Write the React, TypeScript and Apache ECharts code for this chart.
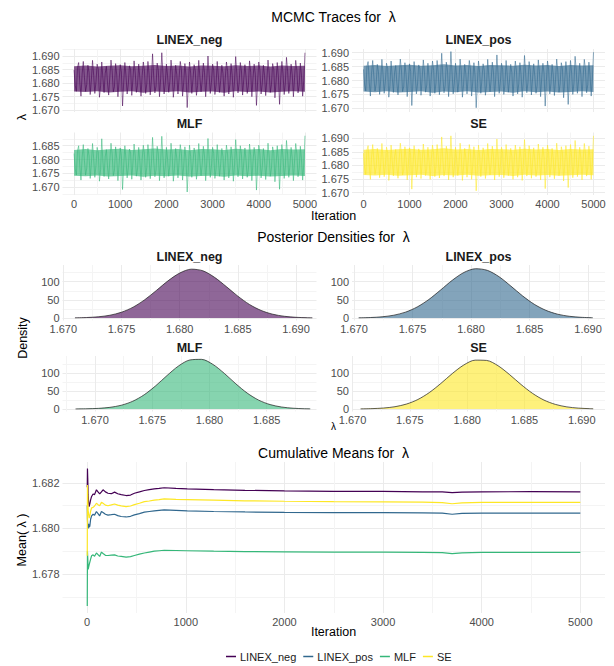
import React, { useEffect, useRef } from "react";
import * as echarts from "echarts";

const FONT = '"Liberation Sans", Arial, Helvetica, sans-serif';

const groups = ["LINEX_neg", "LINEX_pos", "MLF", "SE"];
const groupColors = ["#440154", "#31688E", "#35B779", "#FDE725"];

// ---------- MCMC traces (one value every 25 iterations) ----------
const traceStep = 25;
const traceLinexNeg = [
  1.6848, 1.6792, 1.6770, 1.6858, 1.6876, 1.6801, 1.6752, 1.6834, 1.6880, 1.6822, 1.6770, 1.6795, 1.6866, 1.6840, 1.6758, 1.6812, 1.6884, 1.6829, 1.6762, 1.6805,
  1.6870, 1.6851, 1.6748, 1.6790, 1.6878, 1.6818, 1.6765, 1.6836, 1.6862, 1.6799, 1.6756, 1.6824, 1.6885, 1.6846, 1.6768, 1.6787, 1.6872, 1.6830, 1.6750, 1.6808,
  1.6868, 1.6841, 1.6716, 1.6803, 1.6876, 1.6826, 1.6760, 1.6796, 1.6864, 1.6850, 1.6755, 1.6815, 1.6882, 1.6838, 1.6766, 1.6792, 1.6870, 1.6819, 1.6752, 1.6828,
  1.6878, 1.6844, 1.6762, 1.6798, 1.6880, 1.6833, 1.6757, 1.6811, 1.6908, 1.6823, 1.6764, 1.6789, 1.6874, 1.6847, 1.6750, 1.6816, 1.6912, 1.6835, 1.6760, 1.6800,
  1.6870, 1.6827, 1.6766, 1.6806, 1.6885, 1.6842, 1.6748, 1.6794, 1.6866, 1.6831, 1.6760, 1.6820, 1.6880, 1.6849, 1.6752, 1.6803, 1.6872, 1.6825, 1.6710, 1.6797,
  1.6878, 1.6837, 1.6762, 1.6813, 1.6868, 1.6845, 1.6755, 1.6791, 1.6884, 1.6821, 1.6768, 1.6809, 1.6874, 1.6839, 1.6750, 1.6817, 1.6900, 1.6832, 1.6762, 1.6802,
  1.6870, 1.6848, 1.6758, 1.6793, 1.6880, 1.6826, 1.6766, 1.6810, 1.6866, 1.6836, 1.6752, 1.6818, 1.6878, 1.6843, 1.6760, 1.6796, 1.6872, 1.6829, 1.6748, 1.6807,
  1.6898, 1.6834, 1.6764, 1.6801, 1.6876, 1.6845, 1.6756, 1.6814, 1.6868, 1.6822, 1.6762, 1.6790, 1.6882, 1.6840, 1.6750, 1.6819, 1.6870, 1.6833, 1.6718, 1.6804,
  1.6878, 1.6846, 1.6760, 1.6797, 1.6866, 1.6828, 1.6754, 1.6812, 1.6885, 1.6838, 1.6766, 1.6795, 1.6872, 1.6850, 1.6746, 1.6808, 1.6876, 1.6824, 1.6722, 1.6815,
  1.6880, 1.6835, 1.6758, 1.6799, 1.6895, 1.6843, 1.6762, 1.6806, 1.6870, 1.6830, 1.6750, 1.6821, 1.6884, 1.6847, 1.6764, 1.6793, 1.6874, 1.6827, 1.6752, 1.6810,
  1.6912,
];
const traceLinexPos = [
  1.6840, 1.6784, 1.6762, 1.6850, 1.6868, 1.6793, 1.6744, 1.6826, 1.6872, 1.6814, 1.6762, 1.6787, 1.6858, 1.6832, 1.6750, 1.6804, 1.6876, 1.6821, 1.6754, 1.6797,
  1.6862, 1.6843, 1.6740, 1.6782, 1.6870, 1.6810, 1.6757, 1.6828, 1.6854, 1.6791, 1.6748, 1.6816, 1.6877, 1.6838, 1.6760, 1.6779, 1.6864, 1.6822, 1.6742, 1.6800,
  1.6860, 1.6833, 1.6710, 1.6795, 1.6868, 1.6818, 1.6752, 1.6788, 1.6856, 1.6842, 1.6747, 1.6807, 1.6874, 1.6830, 1.6758, 1.6784, 1.6862, 1.6811, 1.6744, 1.6820,
  1.6870, 1.6836, 1.6754, 1.6790, 1.6872, 1.6825, 1.6749, 1.6803, 1.6898, 1.6815, 1.6756, 1.6781, 1.6866, 1.6839, 1.6742, 1.6808, 1.6904, 1.6827, 1.6752, 1.6792,
  1.6862, 1.6819, 1.6758, 1.6798, 1.6877, 1.6834, 1.6740, 1.6786, 1.6858, 1.6823, 1.6752, 1.6812, 1.6872, 1.6841, 1.6744, 1.6795, 1.6864, 1.6817, 1.6702, 1.6789,
  1.6870, 1.6829, 1.6754, 1.6805, 1.6860, 1.6837, 1.6747, 1.6783, 1.6876, 1.6813, 1.6760, 1.6801, 1.6866, 1.6831, 1.6742, 1.6809, 1.6892, 1.6824, 1.6754, 1.6794,
  1.6862, 1.6840, 1.6750, 1.6785, 1.6872, 1.6818, 1.6758, 1.6802, 1.6858, 1.6828, 1.6744, 1.6810, 1.6870, 1.6835, 1.6752, 1.6788, 1.6864, 1.6821, 1.6740, 1.6799,
  1.6890, 1.6826, 1.6756, 1.6793, 1.6868, 1.6837, 1.6748, 1.6806, 1.6860, 1.6814, 1.6754, 1.6782, 1.6874, 1.6832, 1.6742, 1.6811, 1.6862, 1.6825, 1.6708, 1.6796,
  1.6870, 1.6838, 1.6752, 1.6789, 1.6858, 1.6820, 1.6746, 1.6804, 1.6877, 1.6830, 1.6758, 1.6787, 1.6864, 1.6842, 1.6738, 1.6800, 1.6868, 1.6816, 1.6714, 1.6807,
  1.6872, 1.6827, 1.6750, 1.6791, 1.6887, 1.6835, 1.6754, 1.6798, 1.6862, 1.6822, 1.6742, 1.6813, 1.6876, 1.6839, 1.6756, 1.6785, 1.6866, 1.6819, 1.6744, 1.6802,
  1.6902,
];
const traceMlf = [
  1.6822, 1.6766, 1.6744, 1.6832, 1.6850, 1.6775, 1.6726, 1.6808, 1.6854, 1.6796, 1.6744, 1.6769, 1.6840, 1.6814, 1.6732, 1.6786, 1.6858, 1.6803, 1.6736, 1.6779,
  1.6844, 1.6825, 1.6722, 1.6764, 1.6875, 1.6792, 1.6739, 1.6810, 1.6836, 1.6773, 1.6730, 1.6798, 1.6859, 1.6820, 1.6742, 1.6761, 1.6846, 1.6804, 1.6724, 1.6782,
  1.6842, 1.6815, 1.6692, 1.6777, 1.6850, 1.6800, 1.6734, 1.6770, 1.6838, 1.6824, 1.6729, 1.6789, 1.6856, 1.6812, 1.6740, 1.6766, 1.6844, 1.6793, 1.6726, 1.6802,
  1.6852, 1.6818, 1.6736, 1.6772, 1.6854, 1.6807, 1.6731, 1.6785, 1.6880, 1.6797, 1.6738, 1.6763, 1.6848, 1.6821, 1.6724, 1.6790, 1.6884, 1.6809, 1.6734, 1.6774,
  1.6844, 1.6801, 1.6740, 1.6780, 1.6859, 1.6816, 1.6722, 1.6768, 1.6840, 1.6805, 1.6734, 1.6794, 1.6854, 1.6823, 1.6726, 1.6777, 1.6846, 1.6799, 1.6683, 1.6771,
  1.6852, 1.6811, 1.6736, 1.6787, 1.6842, 1.6819, 1.6729, 1.6765, 1.6858, 1.6795, 1.6742, 1.6783, 1.6848, 1.6813, 1.6724, 1.6791, 1.6876, 1.6806, 1.6736, 1.6776,
  1.6844, 1.6822, 1.6732, 1.6767, 1.6854, 1.6800, 1.6740, 1.6784, 1.6840, 1.6810, 1.6726, 1.6792, 1.6852, 1.6817, 1.6734, 1.6770, 1.6846, 1.6803, 1.6722, 1.6781,
  1.6872, 1.6808, 1.6738, 1.6775, 1.6850, 1.6819, 1.6730, 1.6788, 1.6842, 1.6796, 1.6736, 1.6764, 1.6856, 1.6814, 1.6724, 1.6793, 1.6844, 1.6807, 1.6690, 1.6778,
  1.6852, 1.6820, 1.6734, 1.6771, 1.6840, 1.6802, 1.6728, 1.6786, 1.6859, 1.6812, 1.6740, 1.6769, 1.6846, 1.6824, 1.6720, 1.6782, 1.6850, 1.6798, 1.6693, 1.6789,
  1.6854, 1.6809, 1.6732, 1.6773, 1.6869, 1.6817, 1.6736, 1.6780, 1.6844, 1.6804, 1.6724, 1.6795, 1.6858, 1.6821, 1.6738, 1.6767, 1.6848, 1.6801, 1.6726, 1.6784,
  1.6886,
];
const traceSe = [
  1.6845, 1.6789, 1.6767, 1.6855, 1.6873, 1.6798, 1.6749, 1.6831, 1.6877, 1.6819, 1.6767, 1.6792, 1.6863, 1.6837, 1.6755, 1.6809, 1.6881, 1.6826, 1.6759, 1.6802,
  1.6867, 1.6848, 1.6745, 1.6787, 1.6875, 1.6815, 1.6762, 1.6833, 1.6859, 1.6796, 1.6753, 1.6821, 1.6882, 1.6843, 1.6765, 1.6784, 1.6869, 1.6827, 1.6747, 1.6805,
  1.6865, 1.6838, 1.6713, 1.6800, 1.6873, 1.6823, 1.6757, 1.6793, 1.6861, 1.6847, 1.6752, 1.6812, 1.6879, 1.6835, 1.6763, 1.6789, 1.6867, 1.6816, 1.6749, 1.6825,
  1.6875, 1.6841, 1.6759, 1.6795, 1.6877, 1.6830, 1.6754, 1.6808, 1.6905, 1.6820, 1.6761, 1.6786, 1.6871, 1.6844, 1.6747, 1.6813, 1.6909, 1.6832, 1.6757, 1.6797,
  1.6867, 1.6824, 1.6763, 1.6803, 1.6882, 1.6839, 1.6745, 1.6791, 1.6863, 1.6828, 1.6757, 1.6817, 1.6877, 1.6846, 1.6749, 1.6800, 1.6869, 1.6822, 1.6707, 1.6794,
  1.6875, 1.6834, 1.6759, 1.6810, 1.6865, 1.6842, 1.6752, 1.6788, 1.6881, 1.6818, 1.6765, 1.6806, 1.6871, 1.6836, 1.6747, 1.6814, 1.6897, 1.6829, 1.6759, 1.6799,
  1.6867, 1.6845, 1.6755, 1.6790, 1.6877, 1.6823, 1.6763, 1.6807, 1.6863, 1.6833, 1.6749, 1.6815, 1.6875, 1.6840, 1.6757, 1.6793, 1.6869, 1.6826, 1.6745, 1.6804,
  1.6895, 1.6831, 1.6761, 1.6798, 1.6873, 1.6842, 1.6753, 1.6811, 1.6865, 1.6819, 1.6759, 1.6787, 1.6879, 1.6837, 1.6747, 1.6816, 1.6867, 1.6830, 1.6715, 1.6801,
  1.6875, 1.6843, 1.6757, 1.6794, 1.6863, 1.6825, 1.6751, 1.6809, 1.6882, 1.6835, 1.6763, 1.6792, 1.6869, 1.6847, 1.6743, 1.6805, 1.6873, 1.6821, 1.6719, 1.6812,
  1.6877, 1.6832, 1.6755, 1.6796, 1.6892, 1.6840, 1.6759, 1.6803, 1.6867, 1.6827, 1.6747, 1.6818, 1.6881, 1.6844, 1.6761, 1.6790, 1.6871, 1.6824, 1.6749, 1.6807,
  1.6909,
];

// dense core of each trace (lower / upper edge, every 250 iterations)
const coreStep = 250;
const coreLinexNegLo = [1.6769, 1.6767, 1.6770, 1.6766, 1.6768, 1.6770, 1.6765, 1.6769, 1.6767, 1.6770, 1.6766, 1.6768, 1.6769, 1.6765, 1.6770, 1.6767, 1.6769, 1.6766, 1.6768, 1.6770, 1.6768];
const coreLinexNegHi = [1.6862, 1.6865, 1.6861, 1.6864, 1.6866, 1.6862, 1.6864, 1.6867, 1.6863, 1.6865, 1.6861, 1.6865, 1.6864, 1.6862, 1.6866, 1.6863, 1.6865, 1.6861, 1.6865, 1.6863, 1.6864];
const coreLinexPosLo = [1.6760, 1.6758, 1.6761, 1.6757, 1.6759, 1.6761, 1.6756, 1.6760, 1.6758, 1.6761, 1.6757, 1.6759, 1.6760, 1.6756, 1.6761, 1.6758, 1.6760, 1.6757, 1.6759, 1.6761, 1.6759];
const coreLinexPosHi = [1.6853, 1.6856, 1.6852, 1.6855, 1.6857, 1.6853, 1.6855, 1.6858, 1.6854, 1.6856, 1.6852, 1.6856, 1.6855, 1.6853, 1.6857, 1.6854, 1.6856, 1.6852, 1.6856, 1.6854, 1.6855];
const coreMlfLo = [1.6742, 1.6740, 1.6743, 1.6739, 1.6741, 1.6743, 1.6738, 1.6742, 1.6740, 1.6743, 1.6739, 1.6741, 1.6742, 1.6738, 1.6743, 1.6740, 1.6742, 1.6739, 1.6741, 1.6743, 1.6741];
const coreMlfHi = [1.6835, 1.6838, 1.6834, 1.6837, 1.6839, 1.6835, 1.6837, 1.6840, 1.6836, 1.6838, 1.6834, 1.6838, 1.6837, 1.6835, 1.6839, 1.6836, 1.6838, 1.6834, 1.6838, 1.6836, 1.6837];
const coreSeLo = [1.6765, 1.6763, 1.6766, 1.6762, 1.6764, 1.6766, 1.6761, 1.6765, 1.6763, 1.6766, 1.6762, 1.6764, 1.6765, 1.6761, 1.6766, 1.6763, 1.6765, 1.6762, 1.6764, 1.6766, 1.6764];
const coreSeHi = [1.6858, 1.6861, 1.6857, 1.6860, 1.6862, 1.6858, 1.6860, 1.6863, 1.6859, 1.6861, 1.6857, 1.6861, 1.6860, 1.6858, 1.6862, 1.6859, 1.6861, 1.6857, 1.6861, 1.6859, 1.6860];

// ---------- Posterior densities ----------
const densLinexNegX = [1.6710, 1.6720, 1.6730, 1.6740, 1.6750, 1.6760, 1.6770, 1.6780, 1.6790, 1.6800, 1.6810, 1.6820, 1.6830, 1.6840, 1.6850, 1.6860, 1.6870, 1.6880, 1.6890, 1.6900, 1.6910, 1.6914];
const densLinexNegY = [0.4, 1.2, 3.2, 7.5, 15.8, 29.8, 50.3, 75.8, 102.4, 123.7, 134.5, 130.0, 111.9, 86.7, 60.1, 37.2, 20.7, 10.3, 4.6, 1.8, 0.6, 0.4];
const densLinexPosX = [1.6704, 1.6714, 1.6724, 1.6734, 1.6744, 1.6754, 1.6764, 1.6774, 1.6784, 1.6794, 1.6804, 1.6814, 1.6824, 1.6834, 1.6844, 1.6854, 1.6864, 1.6874, 1.6884, 1.6894, 1.6904];
const densLinexPosY = [0.4, 1.2, 3.2, 7.6, 16.0, 30.3, 51.0, 77.0, 103.9, 125.5, 135.7, 131.2, 113.6, 88.0, 61.0, 37.8, 21.0, 10.4, 4.6, 1.8, 0.6];
const densMlfX = [1.6683, 1.6693, 1.6703, 1.6713, 1.6723, 1.6733, 1.6743, 1.6753, 1.6763, 1.6773, 1.6783, 1.6793, 1.6803, 1.6813, 1.6823, 1.6833, 1.6843, 1.6853, 1.6863, 1.6873, 1.6883, 1.6888];
const densMlfY = [0.2, 0.6, 1.7, 4.5, 10.4, 21.5, 39.5, 64.3, 93.0, 119.4, 136.1, 137.7, 123.7, 98.7, 69.9, 44.0, 24.5, 12.2, 5.4, 2.1, 0.7, 0.4];
const densSeX = [1.6707, 1.6717, 1.6727, 1.6737, 1.6747, 1.6757, 1.6767, 1.6777, 1.6787, 1.6797, 1.6807, 1.6817, 1.6827, 1.6837, 1.6847, 1.6857, 1.6867, 1.6877, 1.6887, 1.6897, 1.6907, 1.6910];
const densSeY = [0.3, 1.0, 2.6, 6.3, 13.6, 26.3, 45.6, 70.7, 98.2, 121.9, 135.5, 134.7, 119.9, 95.4, 68.0, 43.4, 24.7, 12.7, 5.8, 2.4, 0.9, 0.6];

// ---------- Cumulative means ----------
const cumIter = [1, 3, 6, 10, 15, 20, 27, 35, 45, 60, 75, 94, 110, 127, 145, 161, 185, 211, 245, 278, 310, 345, 395, 440, 479, 530, 580, 630, 680, 730, 781, 900, 1015, 1283, 1600, 2000, 2500, 3000, 3400, 3600, 3700, 3800, 4000, 4500, 5000];
const cumLinexNeg = [1.6818, 1.68262, 1.6822, 1.6815, 1.68115, 1.68095, 1.68107, 1.68125, 1.6814, 1.68151, 1.68148, 1.68169, 1.6816, 1.68151, 1.6816, 1.68169, 1.6816, 1.68154, 1.68152, 1.68159, 1.68152, 1.68148, 1.68144, 1.68146, 1.68154, 1.6816, 1.68166, 1.6817, 1.68173, 1.68175, 1.68178, 1.68175, 1.68173, 1.6817, 1.68167, 1.68164, 1.68162, 1.68162, 1.6816, 1.6816, 1.68157, 1.68159, 1.6816, 1.68161, 1.6816];
const cumLinexPos = [1.681, 1.6804, 1.6801, 1.68, 1.6802, 1.68005, 1.6801, 1.6804, 1.68055, 1.68062, 1.68058, 1.68074, 1.68065, 1.68055, 1.68074, 1.6807, 1.68062, 1.68058, 1.6806, 1.68062, 1.68056, 1.68052, 1.6805, 1.68053, 1.68059, 1.68065, 1.68071, 1.68074, 1.68077, 1.68079, 1.68081, 1.68079, 1.68077, 1.68074, 1.68072, 1.6807, 1.68069, 1.68069, 1.68068, 1.68067, 1.68062, 1.68066, 1.68067, 1.68067, 1.68067];
const cumMlf = [1.6766, 1.679, 1.6787, 1.6782, 1.6783, 1.6784, 1.6784, 1.67865, 1.6788, 1.67884, 1.67878, 1.67892, 1.67885, 1.67877, 1.67896, 1.6789, 1.67882, 1.67881, 1.67883, 1.67884, 1.67879, 1.67877, 1.67874, 1.67876, 1.67881, 1.67887, 1.67892, 1.67896, 1.679, 1.67902, 1.67904, 1.67903, 1.67902, 1.679, 1.67898, 1.67897, 1.67896, 1.67896, 1.67895, 1.67894, 1.67889, 1.67893, 1.67895, 1.67895, 1.67895];
const cumSe = [1.6788, 1.6819, 1.6815, 1.6808, 1.6806, 1.68045, 1.68055, 1.68075, 1.6809, 1.68092, 1.68098, 1.6811, 1.68104, 1.68099, 1.68114, 1.6811, 1.68102, 1.68099, 1.68103, 1.68107, 1.68102, 1.68099, 1.68095, 1.68098, 1.68104, 1.6811, 1.68117, 1.6812, 1.68124, 1.68126, 1.68129, 1.68127, 1.68126, 1.68124, 1.68121, 1.68119, 1.68117, 1.68116, 1.68115, 1.68113, 1.68108, 1.68112, 1.68114, 1.68114, 1.68114];

// ---------- Tick labels ----------
const iterTicks = [0, 1000, 2000, 3000, 4000, 5000];
const lambdaTicks = [1.67, 1.675, 1.68, 1.685, 1.69];
const lambdaTicksMlf = [1.67, 1.675, 1.68, 1.685];
const densityTicks = [0, 50, 100];
const cumTicks = [1.678, 1.68, 1.682];

const traces = [traceLinexNeg, traceLinexPos, traceMlf, traceSe];
const coreLo = [coreLinexNegLo, coreLinexPosLo, coreMlfLo, coreSeLo];
const coreHi = [coreLinexNegHi, coreLinexPosHi, coreMlfHi, coreSeHi];
const densX = [densLinexNegX, densLinexPosX, densMlfX, densSeX];
const densY = [densLinexNegY, densLinexPosY, densMlfY, densSeY];
const cums = [cumLinexNeg, cumLinexPos, cumMlf, cumSe];

const f3 = (v: number) => v.toFixed(3);
const f0 = (v: number) => String(Math.round(v));

type Panel = {
  left: number; top: number; width: number; height: number;
  xMin: number; xMax: number; yMin: number; yMax: number;
  xTicks: number[]; yTicks: number[]; xLabels: boolean;
  xFmt: (v: number) => string; yFmt: (v: number) => string;
};

const LC = { left: 62.5, width: 254 };
const RC = { left: 352, width: 253 };

const panels: Panel[] = [
  // traces
  { ...LC, top: 49, height: 63, xMin: -250, xMax: 5250, yMin: 1.66937, yMax: 1.69258, xTicks: iterTicks, yTicks: lambdaTicks, xLabels: false, xFmt: f0, yFmt: f3 },
  { ...RC, top: 49, height: 63, xMin: -250, xMax: 5250, yMin: 1.66867, yMax: 1.69133, xTicks: iterTicks, yTicks: lambdaTicks, xLabels: false, xFmt: f0, yFmt: f3 },
  { ...LC, top: 132.5, height: 62.5, xMin: -250, xMax: 5250, yMin: 1.66722, yMax: 1.68977, xTicks: iterTicks, yTicks: lambdaTicksMlf, xLabels: true, xFmt: f0, yFmt: f3 },
  { ...RC, top: 132.5, height: 62.5, xMin: -250, xMax: 5250, yMin: 1.66915, yMax: 1.69213, xTicks: iterTicks, yTicks: lambdaTicks, xLabels: true, xFmt: f0, yFmt: f3 },
  // densities
  { ...LC, top: 265, height: 55.5, xMin: 1.66993, xMax: 1.69176, yMin: -7, yMax: 146, xTicks: lambdaTicks, yTicks: densityTicks, xLabels: true, xFmt: f3, yFmt: f0 },
  { ...RC, top: 265, height: 55.5, xMin: 1.66983, xMax: 1.69145, yMin: -7, yMax: 146, xTicks: lambdaTicks, yTicks: densityTicks, xLabels: true, xFmt: f3, yFmt: f0 },
  { ...LC, top: 356, height: 55.5, xMin: 1.66716, xMax: 1.68935, yMin: -7, yMax: 147, xTicks: lambdaTicksMlf, yTicks: densityTicks, xLabels: true, xFmt: f3, yFmt: f0 },
  { ...RC, top: 356, height: 55.5, xMin: 1.66995, xMax: 1.69203, yMin: -7, yMax: 147, xTicks: lambdaTicks, yTicks: densityTicks, xLabels: true, xFmt: f3, yFmt: f0 },
  // cumulative means
  { left: 62.5, width: 542.5, top: 462, height: 151, xMin: -250, xMax: 5250, yMin: 1.67629, yMax: 1.68291, xTicks: iterTicks, yTicks: cumTicks, xLabels: true, xFmt: f0, yFmt: f3 },
];

function minorOf(ticks: number[], min: number, max: number) {
  const step = ticks[1] - ticks[0];
  const out: number[] = [];
  for (let k = -2; k <= ticks.length + 2; k++) {
    const v = ticks[0] + step * k + step / 2;
    if (v >= min && v <= max) out.push(v);
  }
  return out;
}

function majorAxis(gi: number, min: number, max: number, ticks: number[], showLabels: boolean, fmt: (v: number) => string, pos: string) {
  return {
    type: "value", gridIndex: gi, min, max, position: pos,
    axisLine: { show: false },
    axisTick: { show: false, customValues: ticks },
    axisLabel: { show: showLabels, customValues: ticks, formatter: (v: number) => fmt(v), color: "#4D4D4D", fontSize: 11, fontFamily: FONT, margin: 3 },
    splitLine: { show: true, lineStyle: { color: "#EBEBEB", width: 1 } },
  };
}

function minorAxis(gi: number, min: number, max: number, vals: number[], pos: string) {
  return {
    type: "value", gridIndex: gi, min, max, position: pos,
    axisLine: { show: false },
    axisTick: { show: false, customValues: vals },
    axisLabel: { show: false, customValues: vals },
    splitLine: { show: true, lineStyle: { color: "#F4F4F4", width: 1 } },
  };
}

function txt(x: number, y: number, s: string, size: number, opts: any = {}) {
  return {
    type: "text", x, y, rotation: opts.rotation || 0, silent: true,
    style: {
      text: s, fontSize: size, fontWeight: opts.weight || "normal", fill: opts.color || "#000000",
      fontFamily: FONT, textAlign: "center", textVerticalAlign: "middle", align: "center", verticalAlign: "middle",
    },
  };
}

function buildOption() {
  const grid: any[] = [];
  const xAxis: any[] = [];
  const yAxis: any[] = [];
  const series: any[] = [];
  panels.forEach((p, gi) => {
    grid.push({ left: p.left, top: p.top, width: p.width, height: p.height, containLabel: false, outerBoundsMode: "none" });
    xAxis.push(majorAxis(gi, p.xMin, p.xMax, p.xTicks, p.xLabels, p.xFmt, "bottom"));
    xAxis.push(minorAxis(gi, p.xMin, p.xMax, minorOf(p.xTicks, p.xMin, p.xMax), "top"));
    yAxis.push(majorAxis(gi, p.yMin, p.yMax, p.yTicks, true, p.yFmt, "left"));
    yAxis.push(minorAxis(gi, p.yMin, p.yMax, minorOf(p.yTicks, p.yMin, p.yMax), "right"));
  });

  groups.forEach((g, i) => {
    const gi = i;
    // dense core band of the trace, drawn as one polygon through the axes' scales
    const lo = coreLo[i];
    const hi = coreHi[i];
    const color = groupColors[i];
    series.push({
      name: "core " + g, type: "custom", xAxisIndex: gi * 2, yAxisIndex: gi * 2,
      data: [[0, hi[0]]], silent: true, z: 2, clip: true,
      renderItem: (_params: any, api: any) => {
        const pts: number[][] = [];
        hi.forEach((v, k) => pts.push(api.coord([k * coreStep, v])));
        for (let k = lo.length - 1; k >= 0; k--) pts.push(api.coord([k * coreStep, lo[k]]));
        return { type: "polygon", shape: { points: pts }, style: { fill: color, opacity: 0.66 } };
      },
    });
    series.push({
      name: "trace " + g, type: "line", xAxisIndex: gi * 2, yAxisIndex: gi * 2,
      data: traces[i].map((v, k) => [k * traceStep, v]),
      symbol: "none", showSymbol: false, silent: true, z: 3,
      lineStyle: { color, width: 0.9, opacity: 0.62 },
      itemStyle: { color },
    });
  });

  groups.forEach((g, i) => {
    const gi = 4 + i;
    series.push({
      name: "density " + g, type: "line", xAxisIndex: gi * 2, yAxisIndex: gi * 2,
      data: densX[i].map((x, k) => [x, densY[i][k]]),
      smooth: 0.3, symbol: "none", showSymbol: false, silent: true, z: 3,
      lineStyle: { color: "#1A1A1A", width: 0.7 },
      areaStyle: { color: groupColors[i], opacity: 0.6, origin: 0 },
      itemStyle: { color: groupColors[i] },
    });
  });

  groups.forEach((g, i) => {
    const gi = 8;
    series.push({
      name: g, type: "line", xAxisIndex: gi * 2, yAxisIndex: gi * 2,
      data: cumIter.map((x, k) => [x, cums[i][k]]),
      symbol: "none", showSymbol: false, silent: true, z: 3,
      lineStyle: { color: groupColors[i], width: 1.2 },
      itemStyle: { color: groupColors[i] },
      color: groupColors[i],
    });
  });

  const graphic = [
    txt(333.5, 17, "MCMC Traces for \u00a0\u03bb", 14),
    txt(189.5, 40, "LINEX_neg", 12.5, { weight: "bold", color: "#1A1A1A" }),
    txt(478.5, 40, "LINEX_pos", 12.5, { weight: "bold", color: "#1A1A1A" }),
    txt(189.5, 124, "MLF", 12.5, { weight: "bold", color: "#1A1A1A" }),
    txt(478.5, 124, "SE", 12.5, { weight: "bold", color: "#1A1A1A" }),
    txt(22, 117, "\u03bb", 12.5, { rotation: Math.PI / 2 }),
    txt(333.5, 216, "Iteration", 12.5),
    txt(333.5, 237, "Posterior Densities for \u00a0\u03bb", 14),
    txt(189.5, 257, "LINEX_neg", 12.5, { weight: "bold", color: "#1A1A1A" }),
    txt(478.5, 257, "LINEX_pos", 12.5, { weight: "bold", color: "#1A1A1A" }),
    txt(189.5, 348, "MLF", 12.5, { weight: "bold", color: "#1A1A1A" }),
    txt(478.5, 348, "SE", 12.5, { weight: "bold", color: "#1A1A1A" }),
    txt(23, 338, "Density", 12.5, { rotation: Math.PI / 2 }),
    txt(333.5, 426, "\u03bb", 10),
    txt(333.5, 453, "Cumulative Means for \u00a0\u03bb", 14),
    txt(22, 540, "Mean(\u00a0\u03bb\u00a0)", 12.5, { rotation: Math.PI / 2 }),
    txt(333.5, 632, "Iteration", 12.5),
  ];

  return {
    animation: false,
    backgroundColor: "#FFFFFF",
    textStyle: { fontFamily: FONT },
    grid, xAxis, yAxis, series, graphic,
    legend: {
      show: true, data: groups, left: 221, top: 646, orient: "horizontal",
      icon: "rect", itemWidth: 10, itemHeight: 1.5, itemGap: 7,
      textStyle: { fontSize: 11, color: "#1A1A1A", fontFamily: FONT, padding: [0, 0, 0, -1] },
      selectedMode: false,
    },
  };
}

export default function App() {
  const ref = useRef<HTMLDivElement>(null);
  useEffect(() => {
    document.body.style.margin = "0";
    const chart = echarts.init(ref.current as HTMLDivElement, null, { renderer: "svg" });
    chart.setOption(buildOption() as any);
    return () => chart.dispose();
  }, []);
  return <div ref={ref} style={{ width: 614, height: 666 }} />;
}
